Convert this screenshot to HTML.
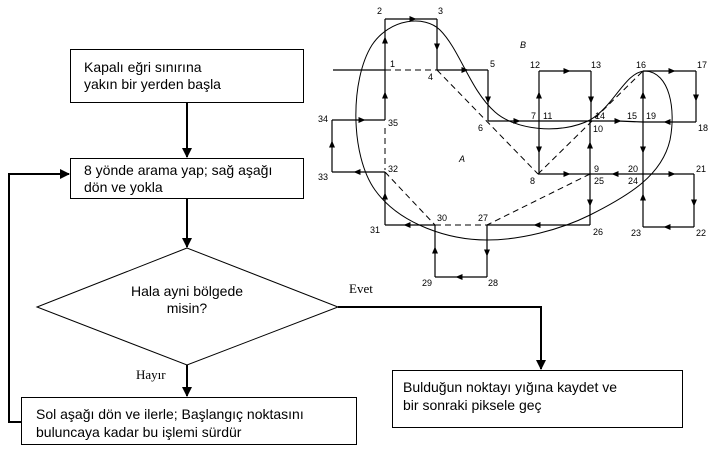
<!DOCTYPE html>
<html><head><meta charset="utf-8"><style>
html,body{margin:0;padding:0;background:#fff;}
svg{display:block;}
.t{font-family:"Liberation Sans",Arial,sans-serif;font-size:14px;fill:#000;}
.n{font-family:"Liberation Sans",Arial,sans-serif;font-size:9px;fill:#000;}
.s{font-family:"Liberation Serif",serif;font-size:13px;fill:#000;}
</style></head><body>
<svg width="720" height="451" viewBox="0 0 720 451" xmlns="http://www.w3.org/2000/svg">
<defs>
<marker id="A" markerWidth="10" markerHeight="10" refX="9" refY="5" orient="auto" markerUnits="userSpaceOnUse"><path d="M0,0 L10,5 L0,10 Z" fill="#000"/></marker>
<marker id="m" markerWidth="7" markerHeight="6" refX="3.5" refY="3" orient="auto" markerUnits="userSpaceOnUse"><path d="M0,0 L7,3 L0,6 Z" fill="#000"/></marker>
</defs>
<g stroke="#000" stroke-width="1" fill="#fff">
<rect x="70.5" y="49.5" width="233" height="53"/>
<rect x="70.5" y="158.5" width="233" height="40"/>
<polygon points="187,248 37,307 187,365 338,307"/>
<rect x="21.5" y="397.5" width="335" height="47"/>
<rect x="392.5" y="370.5" width="290" height="57"/>
</g>
<g stroke="#000" stroke-width="2" fill="none">
<line x1="187" y1="103" x2="187" y2="157" marker-end="url(#A)"/>
<line x1="187" y1="199" x2="187" y2="247" marker-end="url(#A)"/>
<line x1="187" y1="365" x2="187" y2="396" marker-end="url(#A)"/>
<polyline points="21,422 9,422 9,174 69,174" marker-end="url(#A)"/>
<polyline points="338,307 541,307 541,369" marker-end="url(#A)"/>
</g>
<text class="t" x="84" y="72">Kapalı eğri sınırına</text>
<text class="t" x="84" y="89">yakın bir yerden başla</text>
<text class="t" x="84" y="175">8 yönde arama yap; sağ aşağı</text>
<text class="t" x="84" y="192">dön ve yokla</text>
<text class="t" x="187" y="296" text-anchor="middle">Hala ayni  bölgede</text>
<text class="t" x="187" y="313" text-anchor="middle">misin?</text>
<text class="t" x="36" y="419">Sol aşağı dön  ve  ilerle; Başlangıç noktasını</text>
<text class="t" x="36" y="437">buluncaya kadar bu işlemi sürdür</text>
<text class="t" x="403" y="392">Bulduğun noktayı yığına kaydet ve</text>
<text class="t" x="403" y="410">bir sonraki piksele geç</text>
<text class="s" x="349" y="293">Evet</text>
<text class="s" x="136" y="379">Hayır</text>

<path d="M487,240 C450,240 400,225 375,190 C350,155 350,80 372,45 C390,18 425,15 440,30 C460,50 470,90 495,112 C515,130 560,135 590,120 C615,105 625,72 645,71 C670,72 676,110 670,140 C662,175 630,195 590,215 C560,230 520,240 487,240 Z" fill="none" stroke="#000" stroke-width="1"/>
<g stroke="#000" stroke-width="1" stroke-dasharray="6,4" fill="none">
<line x1="385" y1="70" x2="437" y2="70"/>
<line x1="437" y1="70" x2="538" y2="174"/>
<line x1="538" y1="174" x2="643" y2="71"/>
<line x1="590" y1="174" x2="487" y2="225"/>
<line x1="385" y1="172" x2="435" y2="225"/>
<line x1="435" y1="225" x2="487" y2="225"/>
<line x1="385" y1="128" x2="385" y2="170"/>
</g>
<g stroke="#000" stroke-width="1.2" fill="none">
<line x1="333" y1="70" x2="385" y2="70"/>
<polyline points="385,120 385,95" marker-end="url(#m)"/><line x1="385" y1="95" x2="385" y2="70"/>
<polyline points="385,70 385,40" marker-end="url(#m)"/><line x1="385" y1="40" x2="385" y2="19"/>
<polyline points="385,19 413,19" marker-end="url(#m)"/><line x1="413" y1="19" x2="437" y2="19"/>
<polyline points="437,19 437,47" marker-end="url(#m)"/><line x1="437" y1="47" x2="437" y2="70"/>
<polyline points="437,70 465,70" marker-end="url(#m)"/><line x1="465" y1="70" x2="488" y2="70"/>
<polyline points="488,70 488,100" marker-end="url(#m)"/><line x1="488" y1="100" x2="488" y2="121"/>
<polyline points="488,121 517,121" marker-end="url(#m)"/><line x1="517" y1="121" x2="591" y2="121"/>
<polyline points="539,121 539,95" marker-end="url(#m)"/><line x1="539" y1="95" x2="539" y2="71"/>
<polyline points="539,121 539,150" marker-end="url(#m)"/><line x1="539" y1="150" x2="539" y2="174"/>
<polyline points="539,71 567,71" marker-end="url(#m)"/><line x1="567" y1="71" x2="591" y2="71"/>
<polyline points="591,71 591,100" marker-end="url(#m)"/><line x1="591" y1="100" x2="591" y2="121"/>
<polyline points="591,121 618,121" marker-end="url(#m)"/><line x1="618" y1="121" x2="643" y2="122"/>
<polyline points="643,122 643,95" marker-end="url(#m)"/><line x1="643" y1="95" x2="643" y2="71"/>
<polyline points="643,71 672,71" marker-end="url(#m)"/><line x1="672" y1="71" x2="696" y2="71"/>
<polyline points="696,71 696,98" marker-end="url(#m)"/><line x1="696" y1="98" x2="696" y2="122"/>
<polyline points="696,122 667,122" marker-end="url(#m)"/><line x1="667" y1="122" x2="643" y2="122"/>
<polyline points="643,122 643,150" marker-end="url(#m)"/><line x1="643" y1="150" x2="643" y2="174"/>
<polyline points="538,174 567,174" marker-end="url(#m)"/><line x1="567" y1="174" x2="590" y2="174"/>
<polyline points="590,174 590,145" marker-end="url(#m)"/><line x1="590" y1="145" x2="590" y2="121"/>
<polyline points="643,174 615,174" marker-end="url(#m)"/><line x1="615" y1="174" x2="590" y2="174"/>
<polyline points="643,174 672,174" marker-end="url(#m)"/><line x1="672" y1="174" x2="694" y2="174"/>
<polyline points="694,174 694,203" marker-end="url(#m)"/><line x1="694" y1="203" x2="694" y2="227"/>
<polyline points="694,227 667,227" marker-end="url(#m)"/><line x1="667" y1="227" x2="643" y2="227"/>
<polyline points="643,227 643,197" marker-end="url(#m)"/><line x1="643" y1="197" x2="643" y2="174"/>
<polyline points="590,174 590,203" marker-end="url(#m)"/><line x1="590" y1="203" x2="590" y2="225"/>
<polyline points="590,225 537,225" marker-end="url(#m)"/><line x1="537" y1="225" x2="487" y2="225"/>
<polyline points="487,225 487,253" marker-end="url(#m)"/><line x1="487" y1="253" x2="487" y2="277"/>
<polyline points="487,277 459,277" marker-end="url(#m)"/><line x1="459" y1="277" x2="435" y2="277"/>
<polyline points="435,277 435,250" marker-end="url(#m)"/><line x1="435" y1="250" x2="435" y2="225"/>
<polyline points="435,225 407,225" marker-end="url(#m)"/><line x1="407" y1="225" x2="385" y2="225"/>
<polyline points="385,225 385,196" marker-end="url(#m)"/><line x1="385" y1="196" x2="385" y2="172"/>
<polyline points="385,172 357,172" marker-end="url(#m)"/><line x1="357" y1="172" x2="332" y2="172"/>
<polyline points="332,172 332,144" marker-end="url(#m)"/><line x1="332" y1="144" x2="332" y2="120"/>
<polyline points="332,120 362,120" marker-end="url(#m)"/><line x1="362" y1="120" x2="385" y2="120"/>
</g>
<g class="n">
<text x="377" y="14">2</text><text x="438" y="14">3</text>
<text x="390" y="67">1</text><text x="428" y="80">4</text>
<text x="490" y="67">5</text><text x="478" y="131">6</text>
<text x="530" y="68">12</text><text x="591" y="68">13</text>
<text x="636" y="68">16</text><text x="697" y="68">17</text>
<text x="531" y="119">7</text><text x="543" y="119">11</text>
<text x="595" y="119">14</text><text x="593" y="132">10</text>
<text x="627" y="119">15</text><text x="646" y="119">19</text>
<text x="698" y="131">18</text>
<text x="318" y="122">34</text><text x="388" y="126">35</text>
<text x="318" y="180">33</text><text x="388" y="172">32</text>
<text x="370" y="233">31</text><text x="437" y="221">30</text>
<text x="478" y="221">27</text><text x="593" y="235">26</text>
<text x="422" y="286">29</text><text x="488" y="286">28</text>
<text x="530" y="184">8</text><text x="594" y="172">9</text>
<text x="594" y="184">25</text><text x="628" y="172">20</text>
<text x="628" y="184">24</text><text x="696" y="172">21</text>
<text x="631" y="236">23</text><text x="696" y="236">22</text>
<text x="520" y="48" font-style="italic">B</text>
<text x="459" y="162" font-style="italic">A</text>
</g>
</svg>
</body></html>
